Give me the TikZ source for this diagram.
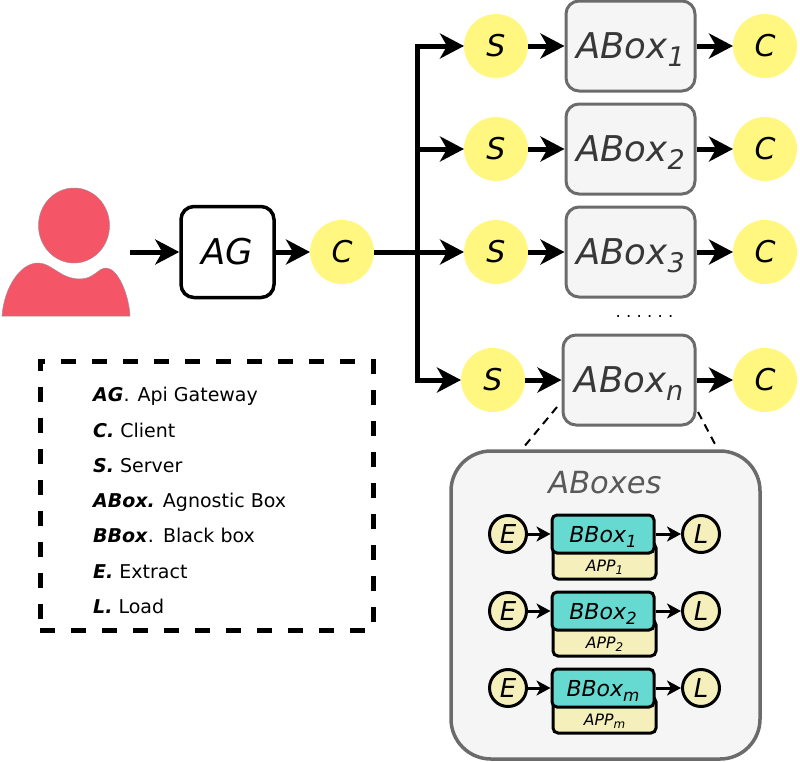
\documentclass[tikz,border=0pt]{standalone}
\usepackage{fontspec}
\setmainfont{DejaVu Sans}
\usetikzlibrary{arrows.meta}
\definecolor{sunny}{HTML}{FFF77F}
\definecolor{paleapp}{HTML}{F5F0BB}
\definecolor{tealbox}{HTML}{66D9D0}
\definecolor{boxgray}{HTML}{F5F5F5}
\definecolor{edgegray}{HTML}{6B6B6B}
\definecolor{userred}{HTML}{F45668}
\newcommand{\fsz}[1]{\fontsize{#1}{#1}\selectfont}
\newcommand{\lowsub}[1]{\raisebox{-.25em}{\scalebox{.76}{#1}}}
\tikzset{
	flow/.style={-{Stealth[length=24pt,width=25pt,inset=7pt]}, line width=5pt},
	flowplain/.style={line width=5pt},
	smallflow/.style={-{Stealth[length=14pt,width=15pt,inset=4pt]}, line width=3pt},
	yellowdot/.style={circle, fill=sunny, minimum size=64pt, inner sep=0pt, outer sep=0pt, font=\fsz{30}\itshape},
	aboxnode/.style={draw=edgegray, fill=boxgray, line width=3pt, rounded corners=13pt, minimum height=90pt, inner sep=0pt, outer sep=1.5pt, text=black!78, text height=30pt, text depth=6pt, font=\fsz{35.5}\itshape},
	paledot/.style={circle, draw=black, fill=paleapp, line width=3pt, minimum size=37pt, inner sep=0pt, outer sep=1.5pt, font=\fsz{26}\itshape},
	bboxnode/.style={draw=black, fill=tealbox, line width=3pt, rounded corners=5pt, minimum width=102pt, minimum height=38pt, inner sep=0pt, outer sep=1.5pt, text height=20pt, text depth=4pt, font=\fsz{22}\itshape},
	appnode/.style={draw=black, fill=paleapp, line width=3pt, rounded corners=5pt, minimum width=103pt, text height=25pt, text depth=5pt, inner ysep=3pt, inner xsep=0pt, font=\fsz{15.7}\itshape},
	legendtxt/.style={anchor=base west, inner sep=0pt, font=\fsz{19}},
}
\begin{document}
\begin{tikzpicture}[x=1pt, y=-1pt]
	\useasboundingbox (0,0) rectangle (800,761);
	% user icon
	\draw[userred!70!cyan, line width=.5pt, fill=userred] (74,225.5) ellipse (35.5 and 37.5);
	\draw[userred!70!cyan, line width=.5pt, fill=userred] (2,316) .. controls (4,288) and (20,263) .. (38,263) .. controls (52,263) and (60,279) .. (80,279) .. controls (94,279) and (98,268) .. (106,268) .. controls (118,268) and (129,295) .. (130,316) -- cycle;
	\coordinate (userout) at (130,252);

	\node[draw=black, fill=white, line width=3.5pt, rounded corners=13pt, minimum width=93pt, minimum height=91pt, inner sep=0pt, outer sep=1.75pt, font=\fsz{35.5}\itshape] (ag) at (227.5,252) {AG};
	\node[yellowdot] (client) at (342,252) {C};
	\coordinate (hub) at (417,252);
	\draw[flow] (userout) -- (ag);
	\draw[flow] (ag) -- (client);
	\draw[flowplain] (client) -- (hub);

	% rows of servers and boxes
	\foreach \lab/\y/\sx/\ax/\aw in {1/46/496/630.5/129, 2/149/496/630.5/129, 3/252/496/630.5/129, n/380/493/629/132} {
		\node[yellowdot] (s\lab) at (\sx,\y) {S};
		\node[aboxnode, minimum width=\aw pt] (abox\lab) at (\ax,\y) {ABox\lowsub{\lab}};
		\node[yellowdot] (c\lab) at (765,\y) {C};
		\draw[flow] (hub) |- (s\lab);
		\draw[flow] (s\lab) -- (abox\lab);
		\draw[flow] (abox\lab) -- (c\lab);
	}
	\node[font=\fsz{16.5}] (moredots) at (644.5,316) {\frenchspacing . . . . . .};

	% detail of the box
	\coordinate (zoomleft) at (557,407);
	\coordinate (zoomlefte) at (523,448);
	\coordinate (zoomright) at (698,412);
	\coordinate (zoomrighte) at (716,446);
	\draw[line width=2pt, dash pattern=on 8pt off 6pt] (zoomleft) -- (zoomlefte);
	\draw[line width=2pt, dash pattern=on 8pt off 6pt] (zoomright) -- (zoomrighte);
	\node[draw=edgegray, fill=boxgray, line width=3.5pt, rounded corners=40pt, minimum width=309pt, minimum height=308pt] (aboxes) at (605.5,605) {};
	\node[text=black!65, font=\fsz{30.5}\itshape] (aboxestitle) at (605,483) {ABoxes};
	\foreach \lab/\y in {1/534, 2/611, m/688} {
		\node[appnode] (app\lab) at (604.5,\y+27) {APP\lowsub{\lab}};
		\node[bboxnode] (bbox\lab) at (603,\y) {BBox\lowsub{\lab}};
		\node[paledot] (e\lab) at (508,\y) {E};
		\node[paledot] (l\lab) at (701,\y) {L};
		\draw[smallflow] (e\lab) -- (bbox\lab);
		\draw[smallflow] (bbox\lab) -- (l\lab);
	}

	% legend
	\node[draw=black, line width=5pt, dash pattern=on 15pt off 16pt, minimum width=333pt, minimum height=269pt] (legend) at (206.5,495.5) {};
	\node[legendtxt] (legag) at (93,401) {\textbf{\textit{AG}}.\hspace{2pt} Api Gateway};
	\node[legendtxt] (legc) at (93,437) {\textbf{\textit{C.}} Client};
	\node[legendtxt] (legs) at (93,472) {\textbf{\textit{S.}} Server};
	\node[legendtxt] (legabox) at (93,507) {\textbf{\textit{ABox.}} Agnostic Box};
	\node[legendtxt] (legbbox) at (93,542) {\textbf{\textit{BBox}}.\hspace{1pt} Black box};
	\node[legendtxt] (lege) at (93,578) {\textbf{\textit{E.}} Extract};
	\node[legendtxt] (legl) at (93,613) {\textbf{\textit{L.}} Load};
\end{tikzpicture}
\end{document}
